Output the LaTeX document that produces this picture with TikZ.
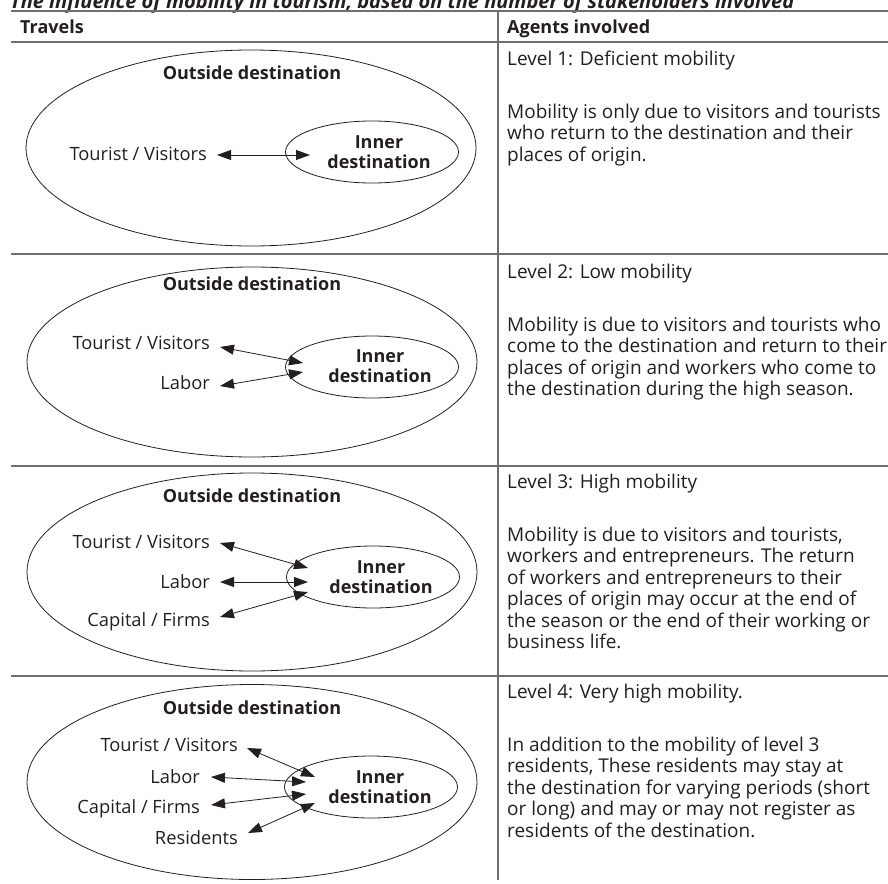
\documentclass[tikz,border=0pt]{standalone}
\usepackage{fontspec}
\setmainfont{Open Sans}
\usetikzlibrary{arrows.meta,shapes.geometric}
\definecolor{ink}{HTML}{231F20}
\definecolor{rulegray}{HTML}{6D6E70}
\begin{document}
\begin{tikzpicture}[x=1pt,y=-1pt,
  txt/.style={text=ink,font=\fontsize{19}{21.5}\selectfont,inner sep=0pt},
  lbltxt/.style={text=ink,font=\fontsize{18.3}{21.5}\selectfont,inner sep=0pt},
  bold/.style={text=ink,font=\fontsize{18}{20}\selectfont\bfseries,inner sep=0pt},
  desc/.style={txt,align=left,anchor=base west},
  lbl/.style={lbltxt,anchor=base east},
  outerell/.style={draw=ink,ellipse,line width=0.8pt,inner sep=0pt,minimum width=450pt,minimum height=196pt},
  innerell/.style={draw=ink,ellipse,line width=0.8pt,inner sep=0pt,minimum width=173pt,minimum height=62pt},
  biarrow/.style={draw=ink,line width=0.8pt,{Triangle[length=14pt,width=10pt]}-{Triangle[length=14pt,width=10pt]}},
  tablerule/.style={draw=rulegray,line width=1.4pt}
]
\useasboundingbox (0,0) rectangle (888,883);

% title (clipped at top)
\node[text=ink,font=\fontsize{20}{22}\selectfont\bfseries\itshape,inner sep=0pt,anchor=base west] (title) at (10,8.5)
  {The influence of mobility in tourism, based on the number of stakeholders involved};

% table rules
\coordinate (tl) at (11,11);   \coordinate (tr) at (888,11);
\coordinate (hl) at (11,42);   \coordinate (hr) at (888,42);
\coordinate (r1l) at (11,254); \coordinate (r1r) at (888,254);
\coordinate (r2l) at (11,466); \coordinate (r2r) at (888,466);
\coordinate (r3l) at (11,676); \coordinate (r3r) at (888,676);
\coordinate (vt) at (498,11);  \coordinate (vb) at (498,880);
\draw[tablerule] (tl) -- (tr);
\draw[tablerule] (hl) -- (hr);
\draw[tablerule] (r1l) -- (r1r);
\draw[tablerule] (r2l) -- (r2r);
\draw[tablerule] (r3l) -- (r3r);
\draw[tablerule] (vt) -- (vb);

% header
\node[bold,anchor=base west] (h1) at (20,34) {Travels};
\node[bold,anchor=base west] (h2) at (507,34) {Agents involved};

% ---------- Row 1 ----------
\node[outerell] (o1) at (251,148) {};
\node[innerell] (i1) at (372,152) {};
\node[bold,anchor=base] (od1) at (252,79) {Outside destination};
\node[bold,align=center] (in1) at (379,152) {Inner\\destination};
\node[lbl] (t1) at (207,160) {Tourist / Visitors};
\coordinate (a1s) at (217,155); \coordinate (a1e) at (310,155);
\draw[biarrow] (a1s) -- (a1e);
\node[desc] (lv1) at (507,66) {Level 1: Deficient mobility};
\node[desc] (d1) at (507,161) {Mobility is only due to visitors and tourists\\who return to the destination and their\\places of origin.};

% ---------- Row 2 ----------
\node[outerell,minimum height=190pt] (o2) at (252,362) {};
\node[innerell] (i2) at (372,367) {};
\node[bold,anchor=base] (od2) at (252,290) {Outside destination};
\node[bold,align=center] (in2) at (380,366) {Inner\\destination};
\node[lbl] (t2a) at (210,349) {Tourist / Visitors};
\node[lbl] (t2b) at (210,389) {Labor};
\coordinate (a2as) at (220,347); \coordinate (a2ae) at (303,363);
\coordinate (a2bs) at (220,386); \coordinate (a2be) at (303,372);
\draw[biarrow] (a2as) -- (a2ae);
\draw[biarrow] (a2bs) -- (a2be);
\node[desc] (lv2) at (507,278) {Level 2: Low mobility};
\node[desc] (d2) at (507,395.5) {Mobility is due to visitors and tourists who\\come to the destination and return to their\\places of origin and workers who come to\\the destination during the high season.};

% ---------- Row 3 ----------
\node[outerell,minimum height=198pt] (o3) at (252,572) {};
\node[innerell] (i3) at (373,577) {};
\node[bold,anchor=base] (od3) at (252,502) {Outside destination};
\node[bold,align=center] (in3) at (381,577) {Inner\\destination};
\node[lbl] (t3a) at (210,548) {Tourist / Visitors};
\node[lbl] (t3b) at (210,588) {Labor};
\node[lbl] (t3c) at (210,626) {Capital / Firms};
\coordinate (a3as) at (220,543); \coordinate (a3ae) at (308,568);
\coordinate (a3bs) at (220,582); \coordinate (a3be) at (308,582);
\coordinate (a3cs) at (220,617); \coordinate (a3ce) at (308,592);
\draw[biarrow] (a3as) -- (a3ae);
\draw[biarrow] (a3bs) -- (a3be);
\draw[biarrow] (a3cs) -- (a3ce);
\node[desc] (lv3) at (507,488) {Level 3: High mobility};
\node[desc] (d3) at (507,648.5) {Mobility is due to visitors and tourists,\\workers and entrepreneurs. The return\\of workers and entrepreneurs to their\\places of origin may occur at the end of\\the season or the end of their working or\\business life.};

% ---------- Row 4 ----------
\node[outerell,minimum height=195pt] (o4) at (252,782) {};
\node[innerell] (i4) at (371,787) {};
\node[bold,anchor=base] (od4) at (252,714) {Outside destination};
\node[bold,align=center] (in4) at (380,787) {Inner\\destination};
\node[lbl] (t4a) at (238,751) {Tourist / Visitors};
\node[lbl] (t4b) at (200,783) {Labor};
\node[lbl] (t4c) at (200,813) {Capital / Firms};
\node[lbl] (t4d) at (238,844) {Residents};
\coordinate (a4as) at (247,748); \coordinate (a4ae) at (315,777);
\coordinate (a4bs) at (211,777); \coordinate (a4be) at (306,782);
\coordinate (a4cs) at (211,805); \coordinate (a4ce) at (306,794);
\coordinate (a4ds) at (248,833); \coordinate (a4de) at (315,803);
\draw[biarrow] (a4as) -- (a4ae);
\draw[biarrow] (a4bs) -- (a4be);
\draw[biarrow] (a4cs) -- (a4ce);
\draw[biarrow] (a4ds) -- (a4de);
\node[desc] (lv4) at (507,698) {Level 4: Very high mobility.};
\node[desc] (d4) at (507,837) {In addition to the mobility of level 3\\residents, These residents may stay at\\the destination for varying periods (short\\or long) and may or may not register as\\residents of the destination.};
\end{tikzpicture}
\end{document}
